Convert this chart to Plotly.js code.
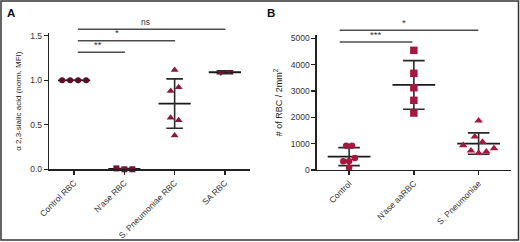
<!DOCTYPE html>
<html>
<head>
<meta charset="utf-8">
<script src="https://cdn.plot.ly/plotly-3.0.1.min.js"></script>
<style>html,body{margin:0;padding:0;background:#fff;}#chart{width:520px;height:242px;}</style>
</head>
<body>
<div id="chart"></div>
<script>
// ---------- DATA ----------
const categoriesA = ["Control RBC", "N'ase RBC", "S. Pneumoniae RBC", "SA RBC"];
const controlA = [1.0, 1.0, 1.0, 1.0];
const naseA = [0.01, 0.0, 0.0];
const pneumoA = [1.116, 0.88, 0.921, 0.58, 0.55, 0.38];
const saA = [1.079, 1.101];
const yTicksA = [0, 0.5, 1.0, 1.5];

const categoriesB = ["Control", "N'ase aaRBC", "S. Pneumoniae"];
const controlB = [922, 922, 330, 330, 455, 87];
const naseB = [4543, 3670, 3124, 2645, 2163];
const pneumoB = [1871, 1264, 1063, 937, 732, 645, 695, 823];
const yTicksB = [0, 1000, 2000, 3000, 4000, 5000];

const sigA = [["ns", 0, 3], ["*", 0, 2], ["**", 0, 1]];
const sigB = [["*", 0, 2], ["***", 0, 1]];

// ---------- STYLE ----------
const FONT = "Liberation Sans, Arial, sans-serif";
const NARROW = "Liberation Sans Narrow, Liberation Sans, Arial, sans-serif";
const colA = ["#5a0e26", "#6a1430", "#861a3b", "#741433"];
const symA = ["circle", "square", "triangle-up", "triangle-down"];
const sizeA = [6, 6, 7, 5.5];
const colB = ["#a5183f", "#a5183f", "#a5183f"];
const symB = ["circle", "square", "triangle-up"];
const sizeB = [6.5, 7.5, 7.5];

const W = 520, H = 242;
const axA = {x0: 49, x1: 250, yBot: 169.3, yTop: 33.1, yMax: 1.53};
const axB = {x0: 316.7, x1: 511, yBot: 170, yTop: 35, yMax: 5125};
const pxPerUnitA = (axA.yBot - axA.yTop) / axA.yMax;
const pxPerUnitB = (axB.yBot - axB.yTop) / axB.yMax;
const pxPerCatA = (axA.x1 - axA.x0) / 4;
const pxPerCatB = (axB.x1 - axB.x0) / 3;

// beeswarm-like row layout: points within threshold (px) of row start share a row
function swarm(values, pxPerUnit, thrPx, spacing) {
  const idx = values.map((v, i) => i).sort((a, b) => values[b] - values[a]);
  const rows = []; let cur = null;
  idx.forEach(i => {
    if (cur && (values[cur[0]] - values[i]) * pxPerUnit < thrPx) cur.push(i);
    else { cur = [i]; rows.push(cur); }
  });
  const off = new Array(values.length).fill(0);
  rows.forEach(r => {
    r.sort((a, b) => a - b);
    r.forEach((i, k) => { off[i] = (k - (r.length - 1) / 2) * spacing; });
  });
  return off;
}
const mean = a => a.reduce((s, v) => s + v, 0) / a.length;
const sd = a => { const m = mean(a); return Math.sqrt(a.reduce((s, v) => s + (v - m) * (v - m), 0) / (a.length - 1)); };

const traces = [];
function addGroup(vals, ci, xa, ya, pxU, spacingPx, pxCat, halfW, capW, color, sym, size) {
  const m = mean(vals), s = sd(vals);
  traces.push({x: [ci - halfW, ci + halfW], y: [m, m], xaxis: xa, yaxis: ya, mode: "lines",
    line: {color: "#1a1a1a", width: 1.8}, hoverinfo: "skip", showlegend: false, cliponaxis: false});
  traces.push({x: [ci], y: [m], xaxis: xa, yaxis: ya, mode: "markers",
    marker: {size: 1, color: "rgba(0,0,0,0)"}, showlegend: false, hoverinfo: "skip",
    error_y: {type: "data", array: [s], visible: true, color: "#2a2a2a", thickness: 1.6, width: capW}});
  const off = swarm(vals, pxU, 8, spacingPx / pxCat);
  traces.push({x: vals.map((v, i) => ci + off[i]), y: vals, xaxis: xa, yaxis: ya, mode: "markers",
    marker: {symbol: sym, size: size, color: color, line: {width: 0}}, showlegend: false, cliponaxis: false});
}
[controlA, naseA, pneumoA, saA].forEach((vals, i) =>
  addGroup(vals, i, "x", "y", pxPerUnitA, 8, pxPerCatA, 0.32, 8.3, colA[i], symA[i], sizeA[i]));
const spacingB = [5.8, 6, 7.7];
[controlB, naseB, pneumoB].forEach((vals, i) =>
  addGroup(vals, i, "x2", "y2", pxPerUnitB, spacingB[i], pxPerCatB, 0.33, 10.8, colB[i], symB[i], sizeB[i]));

const py = px => (H - px) / H;
const shapes = [], annotations = [];
// significance bars
const sigYA = [29.3, 40.7, 52.3], sigYB = [30.3, 42];
const sigTxtA = [[1.42, 29.3], [0.854, 40.7], [0.48, 52.3]];
const sigTxtB = [[0.843, 30.3], [0.413, 42]];
sigA.forEach((s, k) => {
  shapes.push({type: "line", xref: "x", yref: "paper", x0: s[1] + 0.074, x1: s[2] + 0.01,
    y0: py(sigYA[k]), y1: py(sigYA[k]), line: {color: "#4d4d4d", width: 1.6}});
  annotations.push({xref: "x", yref: "paper", x: sigTxtA[k][0], y: py(sigTxtA[k][1] - 0.5),
    text: s[0], showarrow: false, xanchor: "center", yanchor: "bottom",
    font: {family: FONT, size: s[0] === "ns" ? 8.5 : 9.5, color: "#333"}});
});
sigB.forEach((s, k) => {
  shapes.push({type: "line", xref: "x2", yref: "paper", x0: s[1] - 0.144, x1: s[2] - (s[2] === 2 ? 0.005 : 0.021),
    y0: py(sigYB[k]), y1: py(sigYB[k]), line: {color: "#4d4d4d", width: 1.6}});
  annotations.push({xref: "x2", yref: "paper", x: sigTxtB[k][0], y: py(sigTxtB[k][1] - 0.5),
    text: s[0], showarrow: false, xanchor: "center", yanchor: "bottom",
    font: {family: FONT, size: 9.5, color: "#333"}});
});
// border
shapes.push({type: "rect", xref: "paper", yref: "paper", x0: 1 / W, x1: 518.5 / W, y0: py(240), y1: py(1),
  line: {color: "#333", width: 1.5}});
// panel letters
annotations.push({xref: "paper", yref: "paper", x: 10.5 / W, y: py(13.5), text: "<b>A</b>", showarrow: false,
  xanchor: "center", yanchor: "middle", font: {family: FONT, size: 11.5, color: "#111"}});
annotations.push({xref: "paper", yref: "paper", x: 271 / W, y: py(13.5), text: "<b>B</b>", showarrow: false,
  xanchor: "center", yanchor: "middle", font: {family: FONT, size: 11.5, color: "#111"}});

const tickFont = {family: FONT, size: 8.5, color: "#333"};
const common = {showgrid: false, zeroline: false, showline: true, linecolor: "#222", linewidth: 1.3,
  ticks: "outside", ticklen: 4, tickwidth: 1.3, tickcolor: "#222", tickfont: tickFont, fixedrange: true};

const layout = {
  width: W, height: H, margin: {l: 0, r: 0, t: 0, b: 0},
  paper_bgcolor: "#fff", plot_bgcolor: "#fff", showlegend: false,
  xaxis: Object.assign({}, common, {domain: [axA.x0 / W, axA.x1 / W], range: [-0.5, 3.5],
    tickmode: "array", tickvals: categoriesA.map((c, i) => i), ticktext: categoriesA, tickangle: -45, anchor: "y"}),
  yaxis: Object.assign({}, common, {domain: [py(axA.yBot), py(axA.yTop)], range: [0, axA.yMax],
    tickmode: "array", tickvals: yTicksA, ticktext: yTicksA.map(v => v.toFixed(1)), anchor: "x",
    title: {text: "α 2,3-sialic acid (norm. MFI)", font: {family: NARROW, size: 8, color: "#222"}, standoff: 7}}),
  xaxis2: Object.assign({}, common, {domain: [axB.x0 / W, axB.x1 / W], range: [-0.5, 2.5],
    tickmode: "array", tickvals: categoriesB.map((c, i) => i), ticktext: categoriesB, tickangle: -45, anchor: "y2"}),
  yaxis2: Object.assign({}, common, {domain: [py(axB.yBot), py(axB.yTop)], range: [0, axB.yMax],
    tickmode: "array", tickvals: yTicksB, ticktext: yTicksB.map(String), anchor: "x2",
    title: {text: "# of RBC / 2mm<sup>2</sup>", font: {family: NARROW, size: 9, color: "#222"}, standoff: 6}}),
  shapes: shapes, annotations: annotations
};
Plotly.newPlot("chart", traces, layout, {staticPlot: true, displayModeBar: false});
</script>
</body>
</html>
